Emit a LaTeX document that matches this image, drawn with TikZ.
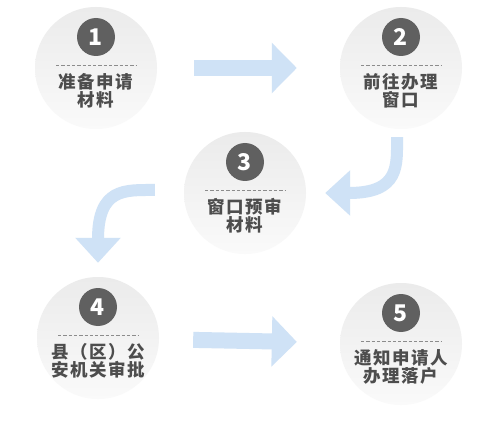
\documentclass[tikz,border=0pt]{standalone}
\usepackage{fontspec}
\newfontfamily\cjk{Noto Sans CJK SC}[LetterSpace=9]
\newfontfamily\cjknum{Noto Sans CJK SC}
\usetikzlibrary{arrows.meta}
\definecolor{discgray}{HTML}{EBEBEB}
\definecolor{badgegray}{HTML}{606060}
\definecolor{labelgray}{HTML}{4D4D4D}
\definecolor{arrowblue}{HTML}{CFE2F6}
\tikzset{
  disc/.style={circle,minimum size=122pt,inner sep=0pt,top color=discgray,bottom color=black!2},
  badge/.style={circle,fill=badgegray,minimum size=38pt,inner sep=0pt,text=white,
    font=\cjknum\bfseries\fontsize{23}{23}\selectfont},
  steplabel/.style={align=center,text=labelgray,inner sep=0pt,
    font=\cjk\bfseries\fontsize{17.5}{18}\selectfont},
  divider/.style={draw=black!45,line width=0.8pt,dash pattern=on 3.3pt off 2pt},
  flow/.style={draw=arrowblue,line width=16pt,-{Triangle[length=25pt,width=49pt]}},
  turn/.style={draw=arrowblue,line width=12pt,-{Triangle[length=25pt,width=44pt]}},
}
\begin{document}
\begin{tikzpicture}[x=1pt,y=-1pt]
\useasboundingbox[fill=white] (0,0) rectangle (499,428);
% steps
\foreach \n/\cx/\cy/\txt in {1/96/68/{准备申请\\材料},2/401/68/{前往办理\\窗口},
  3/245/193/{窗口预审\\材料},4/98/338/{县（区）公\\安机关审批},5/401/344/{通知申请人\\办理落户}}{
  \node[disc] (s\n) at (\cx,\cy) {};
  \node[badge] (b\n) at (\cx,\cy-31) {\n};
  \draw[divider] (\cx-40,\cy-3) -- (\cx+40,\cy-3);
  \node[steplabel] (t\n) at (\cx,\cy+23) {\txt};
}
% arrows
\draw[flow,shorten <=37pt,shorten >=43pt] (s1) -- (s2);
\draw[flow,shorten <=34pt,shorten >=43pt] (s4) -- (s5);
\draw[turn] ([xshift=-4pt,yshift=-8pt]s2.south) .. controls +(0,28) and +(75,0) .. ([xshift=19pt]s3.east);
\draw[turn] ([xshift=-29pt,yshift=3pt]s3.west) .. controls +(-30,0) and +(0,-75) .. ([yshift=14pt]s4.north);
\end{tikzpicture}
\end{document}
